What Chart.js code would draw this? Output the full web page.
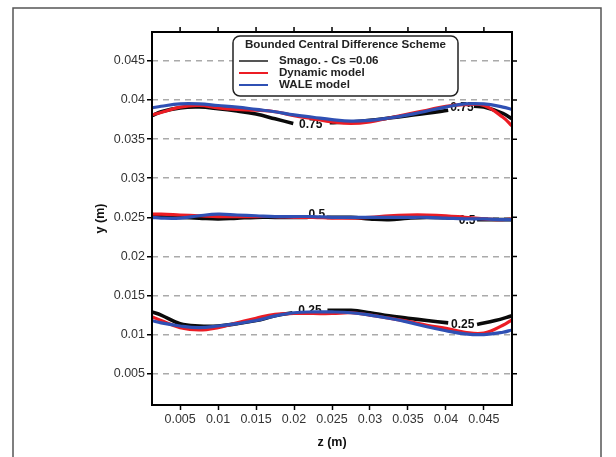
<html>
<head>
<title>Bounded Central Difference Scheme</title>
<style>
  body { margin: 0; background: #fff; }
  canvas { display: block; }
</style>
</head>
<body>
<canvas id="myChart" width="616" height="457"></canvas>
<script src="https://cdn.jsdelivr.net/npm/chart.js"></script>
<script>
// shared z positions (m) for red / blue curves
var zGrid = [0.0013, 0.0025, 0.005, 0.0075, 0.01, 0.0125, 0.015, 0.0175, 0.02, 0.0225, 0.025,
             0.0275, 0.03, 0.0325, 0.035, 0.0375, 0.04, 0.0425, 0.045, 0.0475, 0.0487];

// 0.75 contour
var redTop  = [0.0381, 0.0384, 0.0391, 0.0393, 0.0390, 0.0388, 0.0387, 0.0385, 0.0380, 0.0376, 0.0372,
               0.0370, 0.0372, 0.0377, 0.0382, 0.0387, 0.0392, 0.0394, 0.0393, 0.0378, 0.0367];
var blueTop = [0.0390, 0.0392, 0.0395, 0.0395, 0.0393, 0.0391, 0.0388, 0.0385, 0.0381, 0.0378, 0.0375,
               0.0373, 0.0374, 0.0377, 0.0381, 0.0386, 0.0391, 0.0395, 0.0395, 0.0391, 0.0388];
// 0.5 contour
var redMid  = [0.0254, 0.0254, 0.0253, 0.0252, 0.0251, 0.0251, 0.0251, 0.0251, 0.0250, 0.0250, 0.0249,
               0.0249, 0.0250, 0.0252, 0.0253, 0.0253, 0.0252, 0.0250, 0.0248, 0.0247, 0.0248];
var blueMid = [0.0250, 0.0249, 0.0249, 0.0252, 0.0254, 0.0253, 0.0252, 0.0251, 0.0251, 0.0251, 0.0250,
               0.0250, 0.0250, 0.0250, 0.0250, 0.0250, 0.0249, 0.0248, 0.0248, 0.0247, 0.0247];
// 0.25 contour
var redLow  = [0.0123, 0.0118, 0.0109, 0.0106, 0.0109, 0.0115, 0.0121, 0.0126, 0.0127, 0.0127, 0.0127,
               0.0128, 0.0125, 0.0121, 0.0117, 0.0112, 0.0108, 0.0103, 0.0102, 0.0112, 0.0119];
var blueLow = [0.0118, 0.0115, 0.0111, 0.0109, 0.0111, 0.0114, 0.0118, 0.0124, 0.0128, 0.0129, 0.0129,
               0.0128, 0.0125, 0.0121, 0.0116, 0.0110, 0.0105, 0.0101, 0.0100, 0.0103, 0.0106];

// black (Smagorinsky) curves are broken where the contour labels sit
var zBlackTop = [0.0013, 0.0025, 0.005, 0.0075, 0.01, 0.0125, 0.015, 0.0175, 0.0199, 0.0222, 0.0247,
                 0.0275, 0.03, 0.0325, 0.035, 0.0375, 0.0403, 0.0420, 0.0437, 0.045, 0.0475, 0.0487];
var blackTop  = [0.0380, 0.0385, 0.0390, 0.0391, 0.0389, 0.0386, 0.0382, 0.0376, 0.0370, null, 0.0371,
                 0.0372, 0.0374, 0.0377, 0.0380, 0.0383, 0.0387, null, 0.0392, 0.0391, 0.0383, 0.0376];
var zBlackMid = [0.0013, 0.0025, 0.005, 0.0075, 0.01, 0.0125, 0.015, 0.0175, 0.0218, 0.0230, 0.0243,
                 0.0275, 0.03, 0.0325, 0.035, 0.0375, 0.0412, 0.0427, 0.0441, 0.0465, 0.0487];
var blackMid  = [0.0251, 0.0251, 0.0250, 0.0249, 0.0248, 0.0249, 0.0250, 0.0250, 0.0250, null, 0.0250,
                 0.0250, 0.0248, 0.0247, 0.0249, 0.0250, 0.0249, null, 0.0247, 0.0247, 0.0247];
var zBlackLow = [0.0013, 0.0025, 0.005, 0.0075, 0.01, 0.0125, 0.015, 0.0175, 0.0198, 0.0222, 0.0244,
                 0.0275, 0.03, 0.0325, 0.035, 0.0375, 0.0403, 0.0422, 0.0441, 0.0465, 0.0487];
var blackLow  = [0.0129, 0.0125, 0.0114, 0.0111, 0.0111, 0.0114, 0.0118, 0.0124, 0.0128, null, 0.0131,
                 0.0131, 0.0128, 0.0124, 0.0121, 0.0118, 0.0115, null, 0.0113, 0.0118, 0.0124];

// contour labels: text, z, y
var contourText = ["0.75", "0.75", "0.5", "0.5", "0.25", "0.25"];
var contourZ    = [0.0222, 0.0421, 0.0230, 0.0428, 0.0221, 0.0422];
var contourY    = [0.0368, 0.0390, 0.0253, 0.0246, 0.0130, 0.0113];

var xTicks = [0.005, 0.01, 0.015, 0.02, 0.025, 0.03, 0.035, 0.04, 0.045];
var yTicks = [0.005, 0.01, 0.015, 0.02, 0.025, 0.03, 0.035, 0.04, 0.045];

var legendTitle = "Bounded Central Difference Scheme";
var legendNames = ["Smago. - Cs =0.06", "Dynamic model", "WALE model"];

var BLACK = "#0a0a0a", RED = "#ec1c24", BLUE = "#2f50b4";
var FONT = "'Liberation Sans', Arial, sans-serif";

function pts(zs, ys) {
    return zs.map(function (z, i) { return { x: z, y: ys[i] }; });
}
function line(zs, ys, color, w) {
    return { data: pts(zs, ys), borderColor: color, borderWidth: w, pointRadius: 0,
             tension: 0.4, spanGaps: false, fill: false };
}

// frame, mirrored ticks, contour labels, legend, outer frame
var decorations = {
    id: 'decorations',
    beforeDatasetsDraw: function (chart) {
        var ctx = chart.ctx, xs = chart.scales.x, ys = chart.scales.y;
        ctx.save();
        ctx.fillStyle = "#111";
        ctx.font = "bold 12px " + FONT;
        ctx.textAlign = "center";
        ctx.textBaseline = "middle";
        for (var i = 0; i < contourText.length; i++) {
            ctx.fillText(contourText[i], xs.getPixelForValue(contourZ[i]), ys.getPixelForValue(contourY[i]));
        }
        ctx.restore();
    },
    afterDraw: function (chart) {
        var ctx = chart.ctx, a = chart.chartArea, xs = chart.scales.x, ys = chart.scales.y;
        ctx.save();
        // outer figure frame
        ctx.strokeStyle = "#555";
        ctx.lineWidth = 1.5;
        ctx.beginPath();
        ctx.moveTo(13, 457); ctx.lineTo(13, 8); ctx.lineTo(601, 8); ctx.lineTo(601, 457);
        ctx.stroke();

        // plot box
        ctx.strokeStyle = "#000";
        ctx.lineWidth = 2;
        ctx.strokeRect(a.left, a.top, a.right - a.left, a.bottom - a.top);
        ctx.lineWidth = 1.5;
        ctx.beginPath();
        xTicks.forEach(function (v) {
            var px = xs.getPixelForValue(v);
            ctx.moveTo(px, a.top); ctx.lineTo(px, a.top - 5);
        });
        yTicks.forEach(function (v) {
            var py = ys.getPixelForValue(v);
            ctx.moveTo(a.right, py); ctx.lineTo(a.right + 5, py);
        });
        ctx.stroke();

        // legend box
        var bx = 233, by = 36, bw = 225, bh = 60;
        ctx.beginPath();
        ctx.roundRect(bx, by, bw, bh, 7);
        ctx.fillStyle = "#fff";
        ctx.fill();
        ctx.strokeStyle = "#222";
        ctx.lineWidth = 1.5;
        ctx.stroke();
        ctx.fillStyle = "#222";
        ctx.font = "bold 11.6px " + FONT;
        ctx.textAlign = "center";
        ctx.textBaseline = "middle";
        ctx.fillText(legendTitle, bx + bw / 2, by + 9);
        var cols = ["#555", RED, BLUE];
        ctx.textAlign = "left";
        for (var i = 0; i < legendNames.length; i++) {
            var ly = by + 25 + i * 12;
            ctx.strokeStyle = cols[i];
            ctx.lineWidth = 2;
            ctx.beginPath();
            ctx.moveTo(bx + 6, ly); ctx.lineTo(bx + 35, ly);
            ctx.stroke();
            ctx.fillStyle = "#222";
            ctx.fillText(legendNames[i], bx + 46, ly);
        }
        ctx.restore();
    }
};

var ctx = document.getElementById('myChart').getContext('2d');
var chart = new Chart(ctx, {
    type: 'line',
    data: {
        datasets: [
            line(zGrid, blueTop, BLUE, 3.2),
            line(zGrid, blueMid, BLUE, 3.2),
            line(zGrid, blueLow, BLUE, 3.2),
            line(zGrid, redTop, RED, 3.2),
            line(zGrid, redMid, RED, 3.2),
            line(zGrid, redLow, RED, 3.2),
            line(zBlackTop, blackTop, BLACK, 3.6),
            line(zBlackMid, blackMid, BLACK, 3.6),
            line(zBlackLow, blackLow, BLACK, 3.6)
        ]
    },
    options: {
        responsive: false,
        animation: false,
        layout: { padding: { left: 93, right: 104, top: 32, bottom: 7 } },
        plugins: { legend: { display: false }, tooltip: { enabled: false } },
        scales: {
            x: {
                type: 'linear',
                min: 0.0013, max: 0.0487,
                afterBuildTicks: function (s) { s.ticks = xTicks.map(function (v) { return { value: v }; }); },
                afterFit: function (s) { s.height = 45; },
                border: { display: false },
                grid: { drawOnChartArea: false, drawTicks: true, tickLength: 5, tickColor: "#000",
                        tickWidth: 1.5, tickBorderDash: [] },
                ticks: { color: "#333", font: { family: FONT, size: 12.5 }, padding: 2, maxRotation: 0,
                         callback: function (v) { return String(Number(v.toFixed(4))); } },
                title: { display: true, text: "z (m)", color: "#111", padding: 0,
                         font: { family: FONT, size: 12.5, weight: 'bold' } }
            },
            y: {
                type: 'linear',
                min: 0.001, max: 0.0487,
                afterBuildTicks: function (s) { s.ticks = yTicks.map(function (v) { return { value: v }; }); },
                afterFit: function (s) { s.width = 59; },
                border: { display: false, dash: [6, 5] },
                grid: { color: "#aaa", lineWidth: 1.5, borderDash: [6, 5], drawTicks: true, tickLength: 5,
                        tickColor: "#000", tickWidth: 1.5, tickBorderDash: [] },
                ticks: { color: "#333", font: { family: FONT, size: 12.5 }, padding: 2,
                         callback: function (v) { return String(Number(v.toFixed(4))); } },
                title: { display: true, text: "y (m)", color: "#111", padding: 0,
                         font: { family: FONT, size: 12.5, weight: 'bold' } }
            }
        }
    },
    plugins: [decorations]
});
</script>
</body>
</html>
